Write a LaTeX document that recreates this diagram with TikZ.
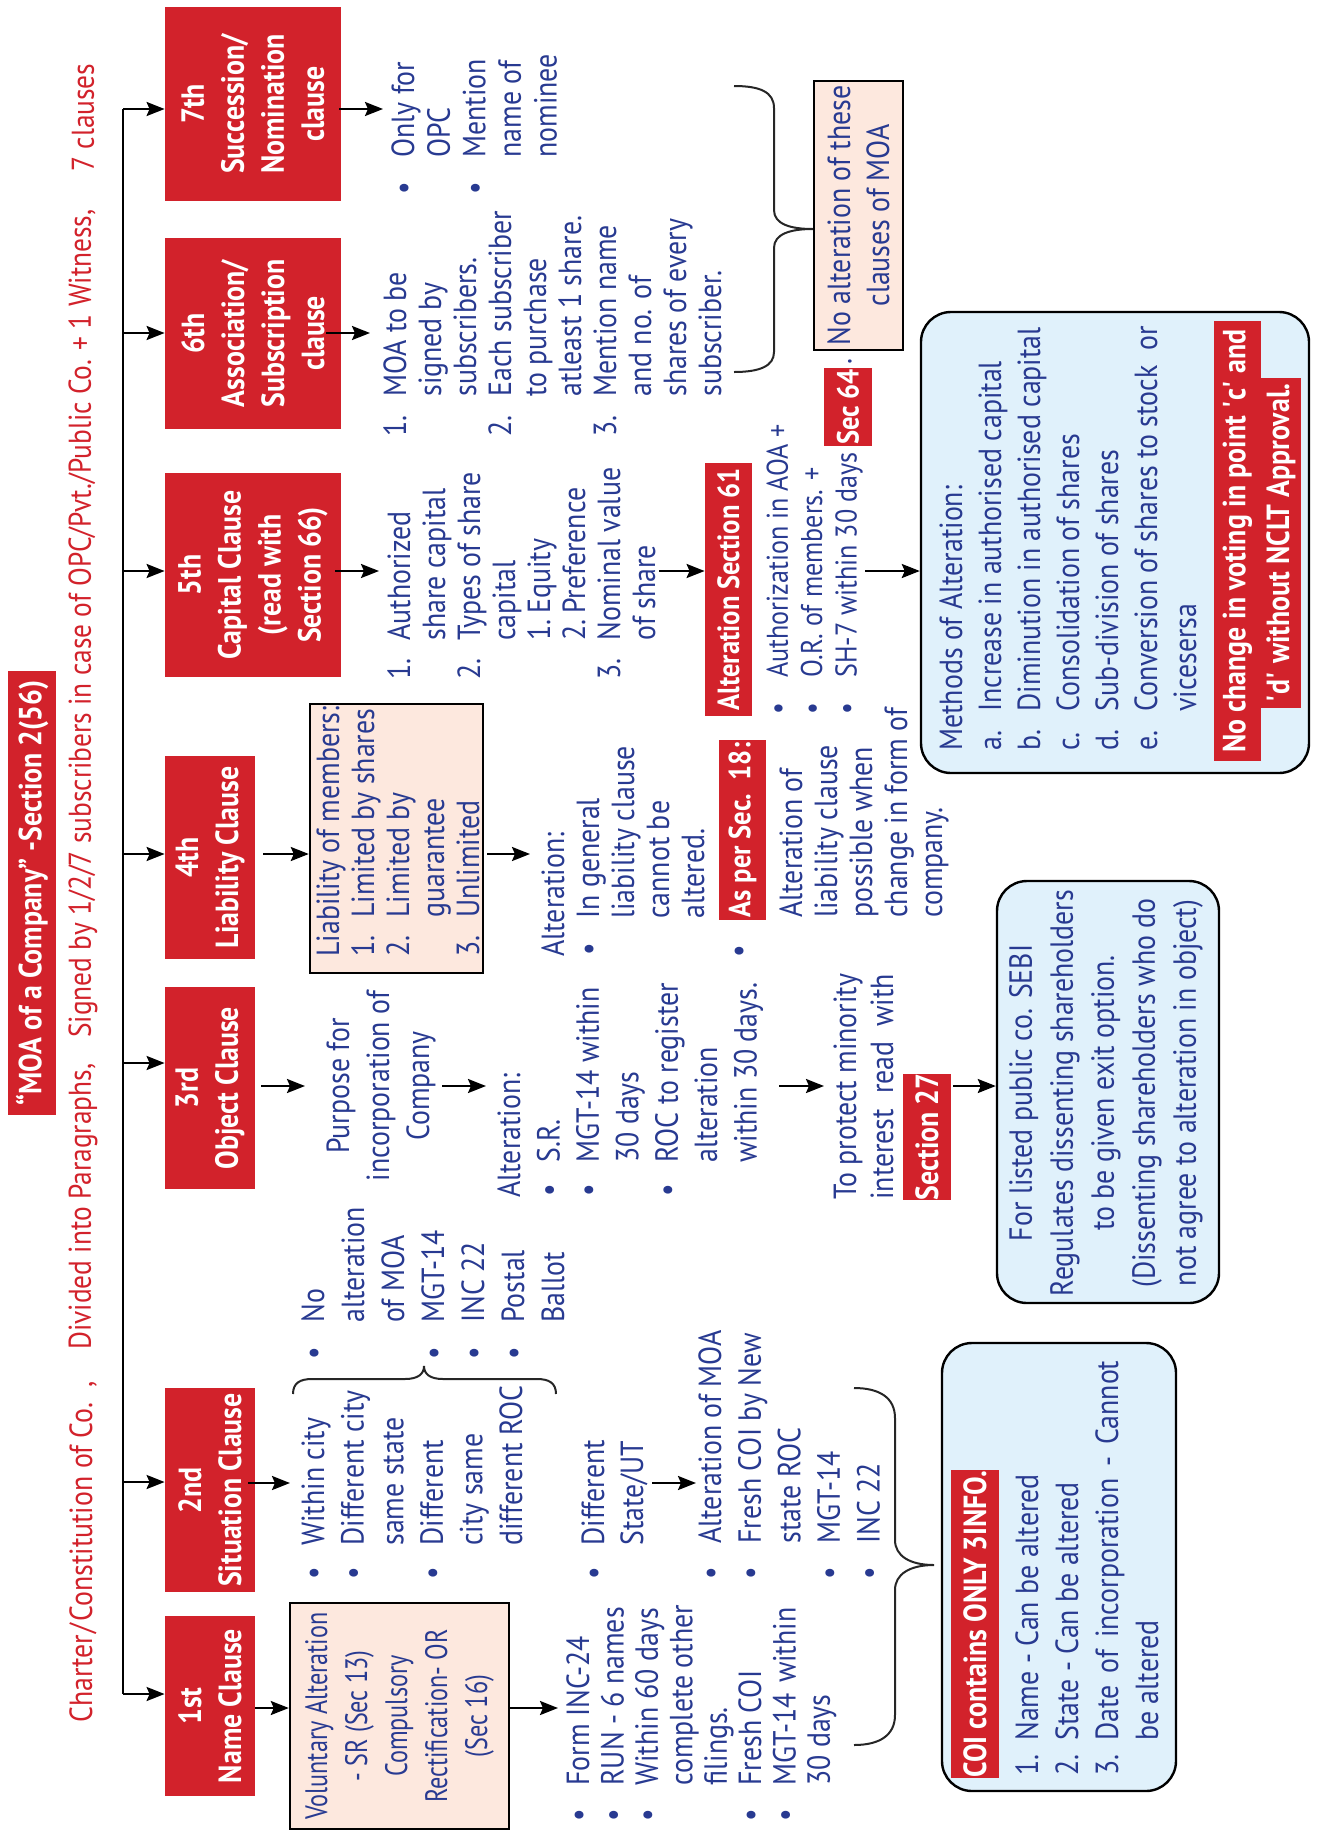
\documentclass[tikz,border=0pt]{standalone}
\usepackage{fontspec}
\setmainfont{PT Sans}[FakeStretch=0.87]
\newfontfamily\condfont{PT Sans}[FakeStretch=0.78]
\usetikzlibrary{arrows.meta,fit}
\definecolor{cred}{RGB}{210,34,43}
\definecolor{cblue}{RGB}{40,58,145}
\definecolor{cpeach}{RGB}{253,232,222}
\definecolor{clblue}{RGB}{224,241,251}
\newcommand\fs[2]{\fontsize{#1}{#2}\selectfont}
\newcommand\xbul[1][19pt]{\makebox[#1][l]{\hspace{0.5pt}\textbullet}}
\newcommand\xind[1][19pt]{\hspace*{#1}}
\newcommand\xnum[2][19.5pt]{\makebox[#1][l]{#2}}
\newcommand\xnin[1][19.5pt]{\hspace*{#1}}
\newlength\tplen
\tikzset{
 arr/.style={line width=1.2pt,-{Stealth[length=9pt,width=7pt,inset=1.5pt]}},
 hdr/.style={fill=cred,inner sep=0pt},
 hdrtxt/.style={rotate=90,text=white,font=\bfseries\fs{16}{20},align=center,inner sep=0pt},
 txt/.style={rotate=90,inner sep=0pt,anchor=north west,align=left,text=cblue,font=\fs{16}{17.5}},
 ctxt/.style={rotate=90,inner sep=0pt,anchor=north,align=center,text=cblue,font=\fs{16}{20}},
 redl/.style={rotate=90,fill=cred,text=white,font=\bfseries\fs{16}{20},inner sep=0pt},
 peachbox/.style={draw=black,line width=1.2pt,fill=cpeach,inner sep=0pt},
 lbluebox/.style={draw=black,line width=1.2pt,fill=clblue,rounded corners=15pt,inner sep=0pt},
 bracel/.style={line width=1pt,draw=black!85},
 rtxt/.style={rotate=90,inner sep=0pt,text=cred,font=\fs{15.75}{20},anchor=west},
}
\begin{document}
\begin{tikzpicture}[x=0.5pt,y=-0.5pt]
\useasboundingbox (0,0) rectangle (1319,1832);

% ---- red column text
\node[rtxt,font=\fs{16}{20}] (r1) at (83,1723) {Charter\kern0.8pt/\kern0.8pt Constitution of Co.\ \ ,};
\node[rtxt] (r2) at (83,1350) {Divided into Paragraphs,};
\node[rtxt] (r3) at (83,1038) {Signed by 1/2/7 subscribers in case of OPC/Pvt./Public Co. + 1 Witness,};
\node[rtxt] (r4) at (83,172) {7 clauses};

% ---- title
\node[hdr,fit={(8,671)(56,1115)}] (title) {};
\node[rotate=90,text=white,font=\bfseries\fs{16}{20},inner sep=0pt] (titlet) at (title.center) {“MOA of a Company” -Section 2(56)};

% ---- header boxes
\node[hdr,fit={(165,7)(341,201)}] (b7) {};
\node[hdrtxt] at (b7.center) {7th\\Succession/\\Nomination\\clause};
\node[hdr,fit={(165,238)(341,429)}] (b6) {};
\node[hdrtxt] at (b6.center) {6th\\Association/\\Subscription\\clause};
\node[hdr,fit={(165,473)(341,677)}] (b5) {};
\node[hdrtxt] at (b5.center) {5th\\Capital Clause\\(read with\\Section 66)};
\node[hdr,fit={(165,756)(255,959)}] (b4) {};
\node[hdrtxt] at (b4.center) {4th\\Liability Clause};
\node[hdr,fit={(165,987)(255,1189)}] (b3) {};
\node[hdrtxt] at (b3.center) {3rd\\Object Clause};
\node[hdr,fit={(165,1388)(255,1592)}] (b2) {};
\node[hdrtxt] at (b2.center) {2nd\\Situation Clause};
\node[hdr,fit={(165,1616)(255,1796)}] (b1) {};
\node[hdrtxt] at (b1.center) {1st\\Name Clause};

% ---- spine
\coordinate (s7) at (123,109);
\coordinate (s6) at (123,333);
\coordinate (s5) at (123,571);
\coordinate (s4) at (123,854);
\coordinate (s3) at (123,1063);
\coordinate (s2) at (123,1482);
\coordinate (s1) at (123,1694);
\draw[line width=1.2pt] (s7) -- (s1);
\foreach \i in {1,...,7}{\draw[arr] (s\i) -- (s\i -| b\i.west);}

% ---- 7th
\coordinate (o7) at (383,109);
\draw[arr] ([xshift=-1pt]b7.east |- o7) -- (o7);
\node[txt,font=\fs{16}{17.8}] (l7) at (391,196) {\xbul Only for\\\xind OPC\\\xbul Mention\\\xind name of\\\xind nominee};

% ---- 6th
\coordinate (o6) at (370,333);
\draw[arr] ([xshift=-7.5pt]b6.east |- o6) -- (o6);
\node[txt] (l6) at (383,437) {\xnum[20pt]{1.}MOA to be\\\xnin[20pt]signed by\\\xnin[20pt]subscribers.\\\xnum[20pt]{2.}Each subscriber\\\xnin[20pt]to purchase\\\xnin[20pt]atleast 1 share.\\\xnum[20pt]{3.}Mention name\\\xnin[20pt]and no. of\\\xnin[20pt]shares of every\\\xnin[20pt]subscriber.};

% brace 6th/7th
\draw[bracel] (734,86) .. controls (760,86) and (774,92) .. (774,108) -- (774,210) .. controls (774,224) and (790,229) .. (813,229) .. controls (790,229) and (774,234) .. (774,248) -- (774,352) .. controls (774,366) and (760,372) .. (734,372);
\node[peachbox,fit={(814,81)(903,350)}] (na) {};
\node[ctxt,anchor=center,font=\fs{16}{19.5}] (nat) at (na.center) {No alteration of these\\clauses of MOA};

% ---- 5th
\coordinate (o5) at (379,571);
\draw[arr] ([xshift=-3pt]b5.east |- o5) -- (o5);
\node[txt] (l5) at (387,680) {\xnum{1.}Authorized\\\xnin share capital\\\xnum{2.}Types of share\\\xnin capital\\\xnin\makebox[13.5pt][l]{1.}Equity\\\xnin\makebox[13.5pt][l]{2.}Preference\\\xnum{3.}Nominal value\\\xnin of share};
\node[redl,font=\bfseries\fs{15.3}{20},minimum width=126.5pt,minimum height=23.5pt] (a61) at (728.5,589.5) {Alteration Section 61};
\coordinate (c5a) at (659,571);
\draw[arr] (c5a) -- (a61.north |- c5a);
\node[txt,font=\fs{15}{17.2}] (l61) at (766,716) {\xbul Authorization in AOA +\\\xbul O.R. of members. +\\\xbul SH-7 within 30 days};
\node[redl,font=\bfseries\fs{15.3}{20},minimum width=39pt,minimum height=24pt] (s64) at (848,407) {Sec 64};
\node[rotate=90,text=cblue,font=\fs{16}{17},inner sep=0pt] (dot64) at (850,362) {.};
\node[lbluebox,fit={(921,312)(1309,773)}] (mb) {};
\coordinate (c5b) at (865,571);
\draw[arr] (c5b) -- (mb.west |- c5b);
\node[txt,font=\fs{16}{19.5}] (mt) at (939,751) {Methods of Alteration:\\\xnum{a.}Increase in authorised capital\\\xnum{b.}Diminution in authorised capital\\\xnum{c.}Consolidation of shares\\\xnum{d.}Sub-division of shares\\\xnum{e.}Conversion of shares to stock\ \ or\\\xnin vicesersa};
\node[redl,minimum width=220pt,minimum height=23.5pt] (nc1) at (1237.5,541) {No change in voting in point \textquotesingle c\textquotesingle\ and};
\node[redl,minimum width=165pt,minimum height=20pt] (nc2) at (1281,543) {\textquotesingle d\textquotesingle\ without NCLT Approval.};

% ---- 4th
\node[peachbox,fit={(310,704)(483,973)}] (lb) {};
\coordinate (o4) at (309,854);
\draw[arr] ([xshift=4pt]b4.east |- o4) -- (lb.west |- o4);
\node[txt] (lbt) at (316,957) {Liability of members:\\\xnum{1.}Limited by shares\\\xnum{2.}Limited by\\\xnin guarantee\\\xnum{3.}Unlimited};
\coordinate (c4a) at (530,854);
\draw[arr] ([xshift=1.5pt]lb.east |- c4a) -- (c4a);
\node[txt] (a4) at (541,957) {Alteration:\\\xbul In general\\\xind liability clause\\\xind cannot be\\\xind altered.};
\node[rotate=90,text=cblue,font=\fs{16}{17},inner sep=0pt] (bul18) at (742,951) {\textbullet};
\node[redl,font=\bfseries\fs{15.3}{20},minimum width=90pt,minimum height=23.5pt] (s18) at (742.5,830) {As per Sec.\ \ 18:};
\node[txt] (a18) at (779,918) {Alteration of\\liability clause\\possible when\\change in form of\\company.};

% ---- 3rd
\coordinate (o3) at (305,1086);
\draw[arr] ([xshift=3pt]b3.east |- o3) -- (o3);
\node[ctxt] (pu) at (326,1086) {Purpose for\\incorporation of\\Company};
\coordinate (c3a) at (442,1086);
\coordinate (c3b) at (486,1086);
\draw[arr] (c3a) -- (c3b);
\node[txt,font=\fs{16}{19.7}] (a3) at (497,1198) {Alteration:\\\xbul[17.5pt]S.R.\\\xbul[17.5pt]MGT-14 within\\\xind[17.5pt]30 days\\\xbul[17.5pt]ROC to register\\\xind[17.5pt]alteration\\\xind[17.5pt]within 30 days.};
\coordinate (c3c) at (779,1086);
\coordinate (c3d) at (824,1086);
\draw[arr] (c3c) -- (c3d);
\node[txt,font=\fs{16}{18.5}] (tp) at (833,1200) {To protect minority\\\settowidth{\tplen}{To protect minority}\makebox[\tplen][s]{interest read with}};
\node[redl,minimum width=63pt,minimum height=24pt] (s27) at (927,1137) {Section 27};
\node[lbluebox,fit={(997,881)(1219,1303)}] (sebi) {};
\coordinate (c3e) at (953,1086);
\draw[arr] (c3e) -- (sebi.west |- c3e);
\node[ctxt,anchor=center,font=\fs{16}{20.5}] (sebit) at (1106,1093) {For listed public co. SEBI\\Regulates dissenting shareholders\\to be given exit option.\\(Dissenting shareholders who do\\not agree to alteration in object)};

% ---- 2nd
\coordinate (o2) at (290,1483);
\draw[arr] ([xshift=-3.5pt]b2.east |- o2) -- (o2);
\node[txt,font=\fs{16}{19.8}] (l2) at (301,1581) {\xbul[17.5pt]Within city\\\xbul[17.5pt]Different city\\\xind[17.5pt]same state\\\xbul[17.5pt]Different\\\xind[17.5pt]city same\\\xind[17.5pt]different ROC};
\node[txt,font=\fs{16}{19.5}] (l2b) at (581,1581) {\xbul[17.5pt]Different\\\xind[17.5pt]State/UT};
\draw[bracel] (293,1394) .. controls (293,1383) and (300,1379) .. (312,1379) -- (405,1379) .. controls (418,1379) and (424,1374) .. (424,1366) .. controls (424,1374) and (430,1379) .. (443,1379) -- (537,1379) .. controls (549,1379) and (556,1383) .. (556,1394);
\node[txt,font=\fs{16}{20}] (l2n) at (301,1361) {\xbul No\\\xind alteration\\\xind of MOA\\\xbul MGT-14\\\xbul INC 22\\\xbul Postal\\\xind Ballot};
\coordinate (c2a) at (652,1483);
\coordinate (c2b) at (696,1483);
\draw[arr] (c2a) -- (c2b);
\node[txt,font=\fs{16}{19.8}] (l2c) at (698,1581) {\xbul[18.5pt]Alteration of MOA\\\xbul[18.5pt]Fresh COI by New\\\xind[18.5pt]state ROC\\\xbul[18.5pt]MGT-14\\\xbul[18.5pt]INC 22};
\draw[bracel] (854,1388) .. controls (880,1388) and (895,1398) .. (895,1418) -- (895,1540) .. controls (895,1556) and (910,1565) .. (934,1565) .. controls (910,1565) and (895,1574) .. (895,1590) -- (895,1715) .. controls (895,1735) and (880,1745) .. (854,1745);

% ---- 1st
\node[peachbox,fit={(290,1603)(509,1829)}] (vb) {};
\coordinate (o1) at (290,1708);
\draw[arr] (b1.east |- o1) -- (vb.west |- o1);
\node[ctxt,anchor=center,font=\condfont\fs{15.5}{20}] (vbt) at (vb.center) {Voluntary Alteration\\- SR (Sec 13)\\Compulsory\\Rectification- OR\\(Sec 16)};
\coordinate (c1a) at (558,1708);
\draw[arr] (vb.east |- c1a) -- (c1a);
\node[txt,font=\fs{16}{17.2}] (l1) at (566,1823) {\xbul[18.5pt]Form INC-24\\\xbul[18.5pt]RUN - 6 names\\\xbul[18.5pt]\makebox[89pt][s]{Within 60 days}\\\xind[18.5pt]complete other\\\xind[18.5pt]filings.\\\xbul[18.5pt]Fresh COI\\\xbul[18.5pt]\makebox[89pt][s]{MGT-14 within}\\\xind[18.5pt]30 days};
\node[lbluebox,fit={(942,1343)(1176,1791)}] (coi) {};
\node[redl,minimum width=154pt,minimum height=24pt] (coit) at (975,1624) {COI contains ONLY 3INFO.};
\node[txt,font=\fs{16}{20}] (coil) at (1015,1776) {\xnum[17.5pt]{1.}Name - Can be altered\\\xnum[17.5pt]{2.}State - Can be altered\\\xnum[17.5pt]{3.}\makebox[190pt][s]{Date of incorporation - Cannot}\\\xnin[17.5pt]be altered};
\end{tikzpicture}
\end{document}
